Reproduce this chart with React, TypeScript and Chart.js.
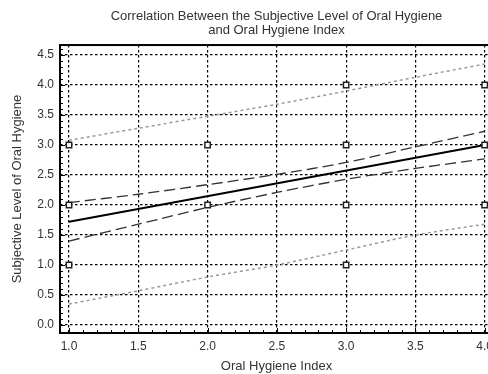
import React, { useEffect, useRef } from "react";
import { Chart, registerables } from "chart.js";

Chart.register(...registerables);

// Observations (open squares)
const pointsX = [1, 1, 1, 2, 2, 3, 3, 3, 3, 4, 4, 4];
const pointsY = [3, 2, 1, 3, 2, 4, 3, 2, 1, 4, 3, 2];

// Regression line
const fitX = [1, 4];
const fitY = [1.72, 3.0];

// Bands sampled along x
const bandX = [1, 1.5, 2, 2.5, 3, 3.5, 4];
const confUpper = [2.04, 2.18, 2.34, 2.51, 2.71, 2.97, 3.23];
const confLower = [1.4, 1.68, 1.96, 2.21, 2.43, 2.61, 2.77];
const predUpper = [3.08, 3.28, 3.48, 3.68, 3.9, 4.13, 4.35];
const predLower = [0.35, 0.57, 0.8, 1.0, 1.25, 1.5, 1.68];

// Axis ticks
const xTicks = [1.0, 1.5, 2.0, 2.5, 3.0, 3.5, 4.0];
const yTicks = [0.0, 0.5, 1.0, 1.5, 2.0, 2.5, 3.0, 3.5, 4.0, 4.5];

const titleLines = [
  "Correlation Between the Subjective Level of Oral Hygiene",
  "and Oral Hygiene Index",
];
const xTitle = "Oral Hygiene Index";
const yTitle = "Subjective Level of Oral Hygiene";

const FONT = "'Liberation Sans', Arial, sans-serif";
const TEXT = "#333";

const zip = (xs: number[], ys: number[]) => xs.map((x, i) => ({ x, y: ys[i] }));

const framePlugin = {
  id: "frame",
  afterDraw(chart: any) {
    const { ctx, chartArea } = chart;
    const xs = chart.scales.x;
    const ys = chart.scales.y;
    ctx.save();
    ctx.strokeStyle = "#000";
    // minor & major ticks, pointing inward
    ctx.lineWidth = 1;
    ctx.beginPath();
    for (let i = 10; i <= 40; i++) {
      const v = i / 10;
      const px = Math.round(xs.getPixelForValue(v)) + 0.5;
      const len = i % 5 === 0 ? 5 : 3;
      ctx.moveTo(px, chartArea.bottom);
      ctx.lineTo(px, chartArea.bottom - len);
    }
    for (let i = 0; i <= 46; i++) {
      const v = i / 10;
      const py = Math.round(ys.getPixelForValue(v)) + 0.5;
      const len = i % 5 === 0 ? 5 : 3;
      ctx.moveTo(chartArea.left, py);
      ctx.lineTo(chartArea.left + len, py);
    }
    ctx.stroke();
    // frame
    ctx.lineWidth = 2;
    ctx.strokeRect(chartArea.left, chartArea.top, chartArea.right - chartArea.left, chartArea.bottom - chartArea.top);
    ctx.restore();
  },
};

export default function App() {
  const ref = useRef<HTMLCanvasElement | null>(null);

  useEffect(() => {
    if (!ref.current) return;
    const chart = new Chart(ref.current, {
      type: "scatter",
      data: {
        datasets: [
          {
            label: "Observations",
            data: zip(pointsX, pointsY),
            pointStyle: "rect",
            pointRadius: 3.8,
            pointBorderWidth: 1.5,
            pointBackgroundColor: "#fff",
            pointBorderColor: "#222",
            showLine: false,
          },
          {
            label: "Fit",
            data: zip(fitX, fitY),
            showLine: true,
            borderColor: "#000",
            borderWidth: 2,
            pointRadius: 0,
          },
          {
            label: "Conf upper",
            data: zip(bandX, confUpper),
            showLine: true,
            borderColor: "#333",
            borderWidth: 1.3,
            borderDash: [11, 5],
            pointRadius: 0,
            tension: 0.3,
          },
          {
            label: "Conf lower",
            data: zip(bandX, confLower),
            showLine: true,
            borderColor: "#333",
            borderWidth: 1.3,
            borderDash: [11, 5],
            pointRadius: 0,
            tension: 0.3,
          },
          {
            label: "Pred upper",
            data: zip(bandX, predUpper),
            showLine: true,
            borderColor: "#9a9a9a",
            borderWidth: 1.5,
            borderDash: [3, 3],
            pointRadius: 0,
            tension: 0.3,
          },
          {
            label: "Pred lower",
            data: zip(bandX, predLower),
            showLine: true,
            borderColor: "#9a9a9a",
            borderWidth: 1.5,
            borderDash: [3, 3],
            pointRadius: 0,
            tension: 0.3,
          },
        ],
      },
      options: {
        responsive: false,
        animation: false,
        layout: { padding: { left: 0, right: 7, top: 0, bottom: 0 } },
        plugins: {
          legend: { display: false },
          tooltip: { enabled: false },
          title: {
            display: true,
            text: titleLines,
            fullSize: false,
            color: TEXT,
            font: { family: FONT, size: 13, weight: "normal", lineHeight: 1.04 },
            padding: { top: 10, bottom: 8 },
          },
        },
        scales: {
          x: {
            type: "linear",
            min: 0.935,
            max: 4.06,
            afterBuildTicks: (scale: any) => {
              scale.ticks = xTicks.map((v) => ({ value: v }));
            },
            afterFit: (scale: any) => {
              scale.height = 41;
            },
            grid: { color: "#000", lineWidth: 1.2, drawTicks: false },
            border: { display: false, dash: [2.5, 2.5] },
            ticks: {
              color: TEXT,
              font: { family: FONT, size: 12 },
              padding: 6,
              maxRotation: 0,
              callback: (v: any) => Number(v).toFixed(1),
            },
            title: {
              display: true,
              text: xTitle,
              color: TEXT,
              font: { family: FONT, size: 13 },
              padding: { top: 0, bottom: 0 },
            },
          },
          y: {
            type: "linear",
            min: -0.133,
            max: 4.667,
            afterBuildTicks: (scale: any) => {
              scale.ticks = yTicks.map((v) => ({ value: v }));
            },
            afterFit: (scale: any) => {
              scale.width = 60;
            },
            grid: { color: "#000", lineWidth: 1.2, drawTicks: false },
            border: { display: false, dash: [2.5, 2.5] },
            ticks: {
              color: TEXT,
              font: { family: FONT, size: 12 },
              padding: 6,
              callback: (v: any) => Number(v).toFixed(1),
            },
            title: {
              display: true,
              text: yTitle,
              color: TEXT,
              font: { family: FONT, size: 13 },
              padding: { top: 10, bottom: 0 },
            },
          },
        },
      },
      plugins: [framePlugin],
    } as any);
    return () => chart.destroy();
  }, []);

  return (
    <div
      style={{
        position: "fixed",
        left: 0,
        top: 0,
        width: 488,
        height: 374,
        overflow: "hidden",
        background: "#fff",
      }}
    >
      <canvas ref={ref} width={500} height={374} style={{ display: "block" }} />
    </div>
  );
}
